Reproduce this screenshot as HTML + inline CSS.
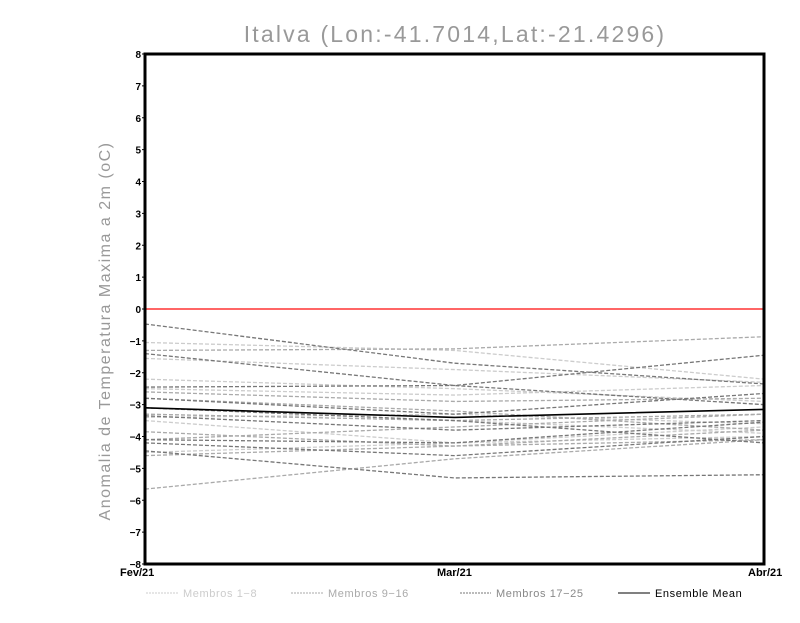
<!DOCTYPE html><html><head><style>body{margin:0;background:#fff}</style></head><body>
<svg width="800" height="618" xmlns="http://www.w3.org/2000/svg" font-family="Liberation Sans, sans-serif">
<rect width="800" height="618" fill="#fff"/>
<text x="455" y="42" font-size="23" fill="#999" text-anchor="middle" letter-spacing="2.2">Italva (Lon:-41.7014,Lat:-21.4296)</text>
<text transform="translate(110,331) rotate(-90)" font-size="16" fill="#999" text-anchor="middle" letter-spacing="1.5">Anomalia de Temperatura Maxima a 2m (oC)</text>
<g id="lines" fill="none" stroke-width="1.3" stroke-dasharray="4,2"></g>
<line x1="145" y1="309" x2="764" y2="309" stroke="#f33" stroke-width="1.5"/>
<polyline points="145,407.8 454.5,417.4 764,409.4" fill="none" stroke="#000" stroke-width="1.6"/>
<rect x="145" y="54" width="619" height="510" fill="none" stroke="#000" stroke-width="3"/>
<g id="ticks" font-size="10" font-weight="bold" text-anchor="end"></g>
<g font-size="11" font-weight="bold">
<text x="120" y="576">Fev/21</text><text x="437" y="576">Mar/21</text><text x="748" y="576">Abr/21</text></g>
<g font-size="11" letter-spacing="0.6">
<line x1="146" y1="593" x2="178" y2="593" stroke="#ccc" stroke-dasharray="2,1"/><text x="183" y="597" fill="#ccc">Membros 1−8</text>
<line x1="291" y1="593" x2="323" y2="593" stroke="#aaa" stroke-dasharray="2,1"/><text x="328" y="597" fill="#aaa">Membros 9−16</text>
<line x1="460" y1="593" x2="491" y2="593" stroke="#777" stroke-dasharray="2,1"/><text x="496" y="597" fill="#888">Membros 17−25</text>
<line x1="618" y1="593" x2="650" y2="593" stroke="#000"/><text x="655" y="597" fill="#000">Ensemble Mean</text>
</g>
</svg>
<script>
const Y=v=>309-v*31.875;
const d=[["#ccc",-1.05,-1.3,-2.2],["#ccc",-1.55,-1.9,-2.3],["#ccc",-2.2,-2.5,-2.9],["#ccc",-3.3,-3.5,-3.9],["#ccc",-3.4,-3.3,-3.6],["#ccc",-4.5,-4.2,-3.7],["#ccc",-3.5,-4.2,-4.0],["#ccc",-2.5,-2.7,-2.4],
["#aaa",-1.3,-1.25,-0.87],["#aaa",-2.6,-2.9,-2.8],["#aaa",-3.85,-4.3,-3.8],["#aaa",-4.6,-4.3,-4.1],["#aaa",-5.65,-4.7,-4.1],["#aaa",-3.3,-3.5,-3.3],["#aaa",-4.1,-3.7,-3.3],["#aaa",-2.8,-3.2,-3.8],
["#777",-0.47,-1.7,-2.35],["#777",-1.4,-2.4,-3.0],["#777",-2.45,-2.4,-1.45],["#777",-2.8,-3.3,-2.65],["#777",-4.1,-4.2,-3.55],["#777",-4.45,-5.3,-5.2],["#777",-3.1,-3.5,-4.2],["#777",-4.2,-4.6,-4.0],["#777",-3.35,-3.8,-3.5]];
let s="";for(const r of d)s+=`<polyline stroke="${r[0]}" points="145,${Y(r[1])} 454.5,${Y(r[2])} 764,${Y(r[3])}"/>`;
document.getElementById("lines").innerHTML=s;
let t="";for(let v=-8;v<=8;v++){t+=`<text x="141" y="${Y(v)+4}">${v<0?"−"+(-v):v}</text><line x1="142" x2="145" y1="${Y(v)}" y2="${Y(v)}" stroke="#000"/>`}
document.getElementById("ticks").innerHTML=t;
</script>
</body></html>
